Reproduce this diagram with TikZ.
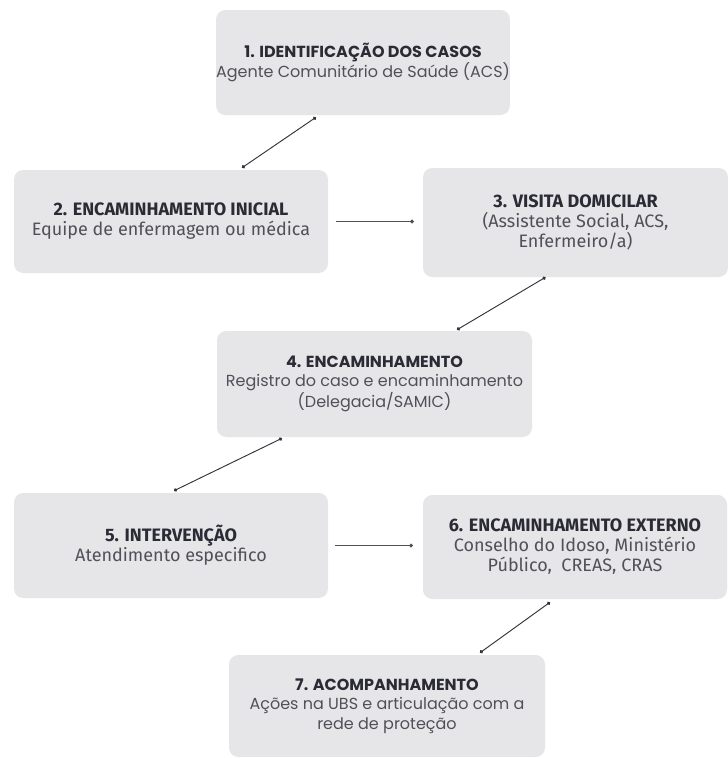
\documentclass[tikz,border=0pt]{standalone}
\usepackage{fontspec}
\setmainfont{Poppins}
\newfontfamily\narrowfont{Fira Sans}
\usetikzlibrary{calc,arrows.meta}
\definecolor{boxfill}{HTML}{E6E6E9}
\definecolor{titlecol}{HTML}{2B2B36}
\definecolor{subcol}{HTML}{505058}
\definecolor{linecol}{HTML}{333338}
\tikzset{
  box/.style={fill=boxfill, rounded corners=7pt, align=center, inner sep=0pt},
  widebox/.style={box, font=\fontsize{12pt}{14.5pt}\selectfont},
  narrowbox/.style={box, font=\narrowfont\fontsize{13.5pt}{15pt}\selectfont},
  conn/.style={draw=linecol, line width=0.7pt, {Circle[length=2.6pt]}-{Circle[length=2.6pt]}},
  hconn/.style={draw=linecol!85, line width=1pt, -{Circle[length=2.6pt]}},
}
\newcommand{\ttl}[1]{{\bfseries\color{titlecol}#1}}
\newcommand{\sbt}[1]{{\color{subcol}#1}}
\begin{document}
\begin{tikzpicture}[x=0.75pt,y=-0.75pt]
\useasboundingbox[fill=white] (0,0) rectangle (728,758);
\node[widebox, minimum width=219pt, minimum height=78.75pt] (b1) at (363,62.5)
  {\ttl{1. IDENTIFICAÇÃO DOS CASOS}\\\sbt{Agente Comunitário de Saúde (ACS)}};
\node[narrowbox, minimum width=235.5pt, minimum height=77.25pt] (b2) at (171,221.5)
  {\ttl{2. ENCAMINHAMENTO INICIAL}\\\sbt{Equipe de enfermagem ou médica}};
\node[narrowbox, minimum width=228.75pt, minimum height=81.75pt] (b3) at (575.5,222.5)
  {\ttl{3. VISITA DOMICILAR}\\\sbt{(Assistente Social, ACS,}\\\sbt{Enfermeiro/a)}};
\node[widebox, minimum width=236.25pt, minimum height=79.5pt] (b4) at (374.5,384)
  {\ttl{4. ENCAMINHAMENTO}\\\sbt{Registro do caso e encaminhamento}\\\sbt{(Delegacia/SAMIC)}};
\node[narrowbox, minimum width=235.5pt, minimum height=78.75pt] (b5) at (171,545.5)
  {\ttl{5. INTERVENÇÃO}\\\sbt{Atendimento especifico}};
\node[narrowbox, minimum width=228pt, minimum height=78pt] (b6) at (575,547)
  {\ttl{6. ENCAMINHAMENTO EXTERNO}\\\sbt{Conselho do Idoso, Ministério}\\\sbt{Público,\ \ CREAS, CRAS}};
\node[widebox, minimum width=237pt, minimum height=76.5pt] (b7) at (387,706)
  {\ttl{7. ACOMPANHAMENTO}\\\sbt{Ações na UBS e articulação com a}\\\sbt{rede de proteção}};
\draw[conn] ($(b1.south)+(-47,2)$) -- ($(b2.north)+(71,-2)$);
\draw[hconn] ($(b2.east)+(8,0)$) -- ($(b2.east -| b3.west)+(-9,0)$);
\draw[conn] ($(b3.south)+(-30,0)$) -- ($(b4.north)+(82.5,-1)$);
\draw[conn] ($(b4.south)+(-92.5,1)$) -- ($(b5.north)+(3,-2)$);
\draw[hconn] ($(b5.east)+(7,0)$) -- ($(b5.east -| b6.west)+(-10,0)$);
\draw[conn] ($(b6.south)+(-25,3)$) -- ($(b7.north)+(93,-2)$);
\end{tikzpicture}
\end{document}
